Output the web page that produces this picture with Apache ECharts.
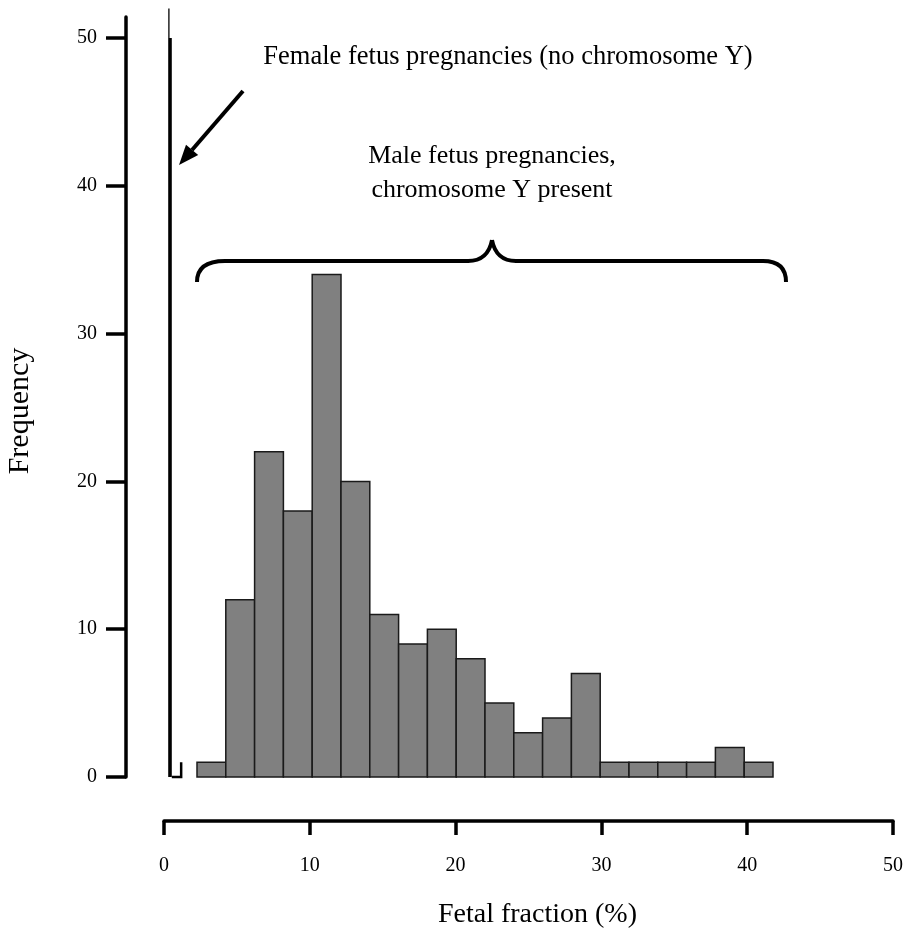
<!DOCTYPE html>
<html>
<head>
<meta charset="utf-8">
<script src="https://cdn.jsdelivr.net/npm/echarts@6/dist/echarts.min.js"></script>
<style>
  html, body { margin: 0; padding: 0; background: #fff; }
  #chart { width: 908px; height: 941px; }
</style>
</head>
<body>
<div id="chart"></div>
<script>
// histogram bins (fetal fraction %, 2% wide) and counts
const binStarts = [2, 4, 6, 8, 10, 12, 14, 16, 18, 20, 22, 24, 26, 28, 30, 32, 34, 36, 38, 40];
const binWidth = 2;
const maleCounts = [1, 12, 22, 18, 34, 20, 11, 9, 10, 8, 5, 3, 4, 7, 1, 1, 1, 1, 2, 1];
// female (no chrY) pile-up near 0 runs off the top of the axis
const femaleBin = [0, 0.25, 52];
const smallBin = [0.25, 0.9, 1];
const yTicks = [0, 10, 20, 30, 40, 50];

const font = 'Liberation Serif';
const yMax = 51.42;
const maleData = binStarts.map((s, i) => [s, s + binWidth, maleCounts[i]]);
const ink = {stroke: '#000', lineWidth: 4, fill: null};

const chart = echarts.init(document.getElementById('chart'));
chart.setOption({
    animation: false,
    backgroundColor: '#fff',
    grid: [
        // detached y axis
        {left: 126, right: 20, top: 17, bottom: 164, outerBoundsMode: 'none'},
        // histogram area
        {left: 168.2, right: 19.8, top: 17, bottom: 164, outerBoundsMode: 'none'},
        // detached x axis
        {left: 164, right: 15, top: 700, bottom: 120, outerBoundsMode: 'none'}
    ],
    xAxis: [
        {gridIndex: 0, type: 'value', min: 0, max: 50, show: false},
        {gridIndex: 1, type: 'value', min: 0, max: 50, show: false},
        {
            gridIndex: 2, type: 'value', min: 0, max: 50, interval: 10,
            name: 'Fetal fraction (%)', nameLocation: 'middle', nameGap: 80,
            nameTextStyle: {fontFamily: font, fontSize: 28, color: '#000', padding: [0, 0, 0, 18]},
            axisLine: {show: true, lineStyle: {color: '#000', width: 3.5}},
            axisTick: {show: true, length: 14, lineStyle: {color: '#000', width: 3.5}},
            axisLabel: {fontFamily: font, fontSize: 20, color: '#000', margin: 35},
            splitLine: {show: false}
        }
    ],
    yAxis: [
        {
            gridIndex: 0, type: 'value', min: 0, max: yMax,
            axisLine: {show: true, lineStyle: {color: '#000', width: 3.5}},
            axisTick: {show: true, length: 20, customValues: yTicks, lineStyle: {color: '#000', width: 3.5}},
            axisLabel: {fontFamily: font, fontSize: 20, color: '#000', margin: 29, customValues: yTicks,
                padding: [6, 0, 0, 0]},
            splitLine: {show: false}
        },
        {gridIndex: 1, type: 'value', min: 0, max: yMax, show: false},
        {gridIndex: 2, type: 'value', show: false}
    ],
    series: [
        {
            name: 'Male',
            type: 'custom',
            xAxisIndex: 1, yAxisIndex: 1,
            data: maleData,
            encode: {x: [0, 1], y: 2},
            renderItem(params, api) {
                const p0 = api.coord([api.value(0), 0]);
                const p1 = api.coord([api.value(1), api.value(2)]);
                return {
                    type: 'rect',
                    shape: {x: p0[0], y: p1[1], width: p1[0] - p0[0], height: p0[1] - p1[1]},
                    style: {fill: '#808080', stroke: '#1a1a1a', lineWidth: 1.5}
                };
            }
        },
        {
            name: 'Female',
            type: 'custom',
            xAxisIndex: 1, yAxisIndex: 1,
            clip: false,
            data: [femaleBin],
            encode: {x: [0, 1], y: 2},
            renderItem(params, api) {
                const p0 = api.coord([api.value(0), 0]);
                const top = api.coord([api.value(1), Math.min(api.value(2), 50)]);
                const tip = api.coord([api.value(0), api.value(2)]);
                return {
                    type: 'group',
                    children: [
                        {type: 'rect', shape: {x: p0[0], y: top[1], width: top[0] - p0[0], height: p0[1] - top[1]},
                            style: {fill: '#000'}},
                        {type: 'line', shape: {x1: p0[0] + 0.7, y1: top[1], x2: p0[0] + 0.7, y2: tip[1]},
                            style: {stroke: '#000', lineWidth: 1.3}}
                    ]
                };
            }
        },
        {
            name: 'Small',
            type: 'custom',
            xAxisIndex: 1, yAxisIndex: 1,
            data: [smallBin],
            encode: {x: [0, 1], y: 2},
            renderItem(params, api) {
                const p0 = api.coord([api.value(0), 0]);
                const p1 = api.coord([api.value(1), api.value(2)]);
                return {
                    type: 'polyline',
                    shape: {points: [[p1[0], p1[1]], [p1[0], p0[1]], [p0[0], p0[1]]]},
                    style: {stroke: '#000', lineWidth: 2.5, fill: null}
                };
            }
        }
    ],
    graphic: [
        {
            type: 'text', x: 20, y: 411, rotation: Math.PI / 2,
            style: {text: 'Frequency', fontFamily: font, fontSize: 30, fill: '#000',
                align: 'center', verticalAlign: 'middle'}
        },
        {
            type: 'text', x: 508, y: 57,
            style: {text: 'Female fetus pregnancies (no chromosome Y)', fontFamily: font, fontSize: 26.5,
                fill: '#000', align: 'center', verticalAlign: 'middle'}
        },
        {
            type: 'text', x: 492, y: 173,
            style: {text: 'Male fetus pregnancies,\nchromosome Y present', fontFamily: font, fontSize: 26,
                lineHeight: 34, fill: '#000', align: 'center', verticalAlign: 'middle'}
        },
        // curly brace over the male distribution
        {type: 'bezierCurve', shape: {x1: 197, y1: 282, cpx1: 197, cpy1: 261, x2: 225, y2: 261}, style: ink},
        {type: 'line', shape: {x1: 224, y1: 261, x2: 469, y2: 261}, style: ink},
        {type: 'bezierCurve', shape: {x1: 468, y1: 261, cpx1: 488, cpy1: 261, x2: 492, y2: 240}, style: ink},
        {type: 'bezierCurve', shape: {x1: 492, y1: 240, cpx1: 496, cpy1: 261, x2: 516, y2: 261}, style: ink},
        {type: 'line', shape: {x1: 515, y1: 261, x2: 764, y2: 261}, style: ink},
        {type: 'bezierCurve', shape: {x1: 763, y1: 261, cpx1: 786, cpy1: 261, x2: 786, y2: 282}, style: ink},
        // arrow to the female peak
        {type: 'line', shape: {x1: 243, y1: 91, x2: 192, y2: 150}, style: ink},
        {type: 'polygon', shape: {points: [[179, 165], [198.2, 155.1], [186, 144.7]]}, style: {fill: '#000'}}
    ]
});
</script>
</body>
</html>
